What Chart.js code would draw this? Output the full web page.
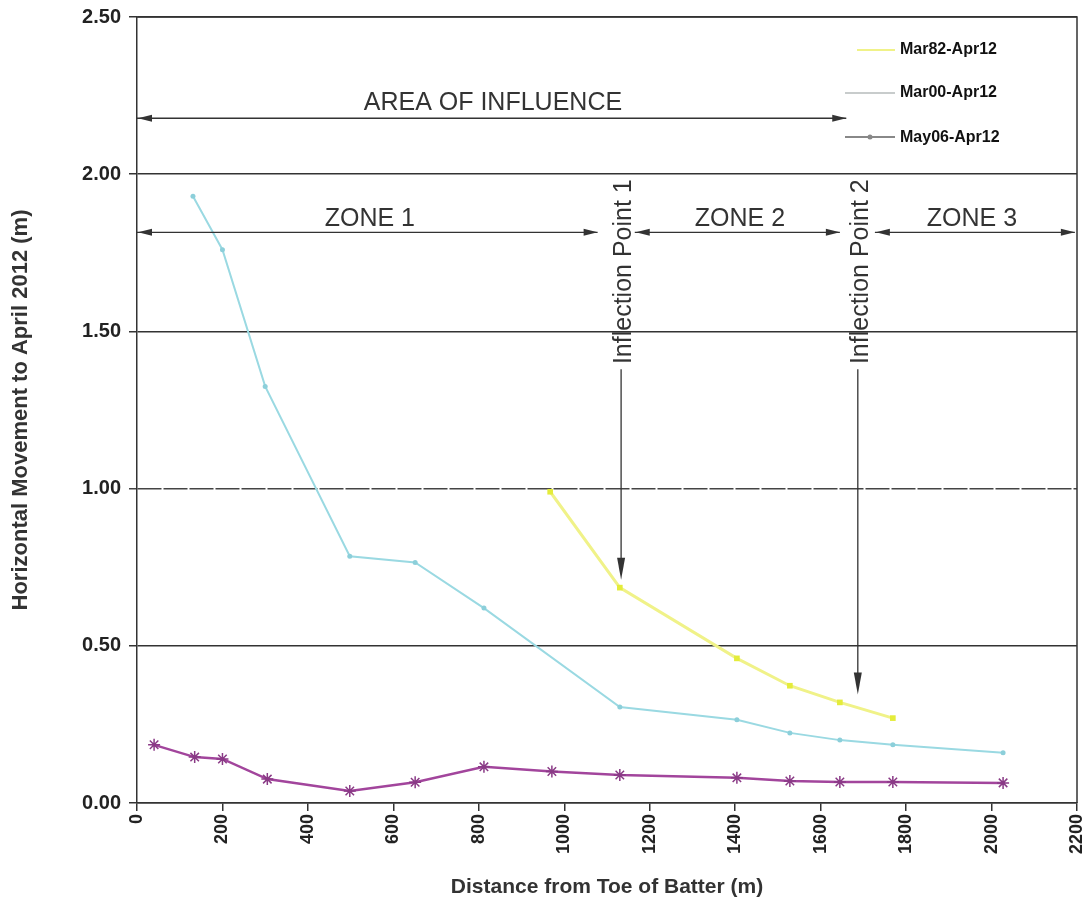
<!DOCTYPE html>
<html>
<head>
<meta charset="utf-8">
<script src="https://cdn.jsdelivr.net/npm/chart.js@4.4.1/dist/chart.umd.min.js"></script>
<style>
  html, body { margin: 0; padding: 0; background: #ffffff; }
  #wrap { width: 1090px; height: 904px; position: relative; }
</style>
</head>
<body>
<div id="wrap"><canvas id="c" width="1090" height="904"></canvas></div>
<script>
// ---- Data ----
const seriesNames = ["Mar82-Apr12", "Mar00-Apr12", "May06-Apr12"];

const mar82X = [967, 1130, 1404, 1528, 1645, 1769];
const mar82Y = [0.99, 0.685, 0.46, 0.373, 0.32, 0.27];

const mar00X = [131, 200, 300, 498, 651, 812, 1130, 1404, 1528, 1645, 1769, 2027];
const mar00Y = [1.93, 1.76, 1.325, 0.785, 0.765, 0.62, 0.305, 0.265, 0.223, 0.20, 0.185, 0.16];

const may06X = [40, 135, 200, 305, 498, 651, 812, 971, 1130, 1404, 1528, 1645, 1769, 2027];
const may06Y = [0.185, 0.146, 0.14, 0.076, 0.038, 0.066, 0.115, 0.10, 0.089, 0.080, 0.070, 0.067, 0.067, 0.064];

const xTickValues = [0, 200, 400, 600, 800, 1000, 1200, 1400, 1600, 1800, 2000, 2200];
const yTickValues = [0, 0.5, 1.0, 1.5, 2.0, 2.5];

const xTitle = "Distance from Toe of Batter (m)";
const yTitle = "Horizontal Movement to April 2012 (m)";

// annotation texts and their data-space anchors
const areaLabel = "AREA OF INFLUENCE";
const zoneLabels = ["ZONE 1", "ZONE 2", "ZONE 3"];
const zoneCenters = [545, 1411, 1954];
const inflectionLabels = ["Inflection Point 1", "Inflection Point 2"];
const inflectionX = [1133, 1687];
const inflectionArrowEnd = [0.71, 0.345];

const colYellow = "#f0f288";
const colCyan = "#9ad9e2";
const colMagenta = "#a2459c";

function pts(xs, ys) { return xs.map((x, i) => ({ x: x, y: ys[i] })); }

const FONT = "'Liberation Sans', Arial, Helvetica, sans-serif";

function arrowHead(ctx, x, y, dir, len, half) {
  ctx.beginPath();
  if (dir === 'left') { ctx.moveTo(x, y); ctx.lineTo(x + len, y - half); ctx.lineTo(x + len, y + half); }
  else if (dir === 'right') { ctx.moveTo(x, y); ctx.lineTo(x - len, y - half); ctx.lineTo(x - len, y + half); }
  else if (dir === 'down') { ctx.moveTo(x, y); ctx.lineTo(x - half, y - len); ctx.lineTo(x + half, y - len); }
  ctx.closePath();
  ctx.fill();
}

const annotPlugin = {
  id: 'annot',
  afterDatasetsDraw(chart) {
    const ctx = chart.ctx;
    const xs = chart.scales.x, ys = chart.scales.y;
    const ca = chart.chartArea;
    ctx.save();
    // frame: right and top border
    ctx.strokeStyle = '#333';
    ctx.lineWidth = 1.5;
    ctx.beginPath();
    ctx.moveTo(ca.left, ca.top); ctx.lineTo(ca.right, ca.top); ctx.lineTo(ca.right, ca.bottom);
    ctx.stroke();

    ctx.fillStyle = '#333';
    ctx.strokeStyle = '#333';
    ctx.lineWidth = 1.3;

    // AREA OF INFLUENCE
    const ay = ys.getPixelForValue(2.178);
    const ax0 = xs.getPixelForValue(0), ax1 = xs.getPixelForValue(1660);
    ctx.beginPath(); ctx.moveTo(ax0, ay); ctx.lineTo(ax1, ay); ctx.stroke();
    arrowHead(ctx, ax0 + 1, ay, 'left', 14, 3.5);
    arrowHead(ctx, ax1, ay, 'right', 14, 3.5);
    ctx.font = "25px " + FONT;
    ctx.textAlign = 'center'; ctx.textBaseline = 'alphabetic';
    ctx.fillText(areaLabel, xs.getPixelForValue(833), ay - 8);

    // zones
    const zy = ys.getPixelForValue(1.815);
    const zoneSegs = [[0, 1078], [1165, 1645], [1727, 2195]];
    zoneSegs.forEach((s, i) => {
      const p0 = xs.getPixelForValue(s[0]), p1 = xs.getPixelForValue(s[1]);
      ctx.beginPath(); ctx.moveTo(p0, zy); ctx.lineTo(p1, zy); ctx.stroke();
      arrowHead(ctx, p0 + 1, zy, 'left', 14, 3.5);
      arrowHead(ctx, p1, zy, 'right', 14, 3.5);
      ctx.font = "25px " + FONT;
      ctx.textAlign = 'center';
      ctx.fillText(zoneLabels[i], xs.getPixelForValue(zoneCenters[i]), zy - 6);
    });

    // inflection points
    inflectionX.forEach((xv, i) => {
      const px = xs.getPixelForValue(xv);
      ctx.save();
      ctx.translate(px + 10, ys.getPixelForValue(1.69));
      ctx.rotate(-Math.PI / 2);
      ctx.font = "25px " + FONT;
      ctx.textAlign = 'center';
      ctx.textBaseline = 'alphabetic';
      ctx.fillText(inflectionLabels[i], 0, 0);
      ctx.restore();
      const y0 = ys.getPixelForValue(1.38), y1 = ys.getPixelForValue(inflectionArrowEnd[i]);
      ctx.beginPath(); ctx.moveTo(px, y0); ctx.lineTo(px, y1 - 10); ctx.stroke();
      arrowHead(ctx, px, y1, 'down', 22, 4);
    });

    // legend (custom, inside plot area)
    const lx = ca.right - 232;
    const legendY = [ys.getPixelForValue(2.395), ys.getPixelForValue(2.258), ys.getPixelForValue(2.118)];
    const legendCols = [colYellow, '#c8cccc', '#888888'];
    ctx.font = "bold 16px " + FONT;
    ctx.textAlign = 'left'; ctx.textBaseline = 'middle';
    seriesNames.forEach((n, i) => {
      ctx.strokeStyle = legendCols[i];
      ctx.lineWidth = 2;
      ctx.beginPath(); ctx.moveTo(lx + (i === 0 ? 12 : 0), legendY[i]); ctx.lineTo(lx + 50, legendY[i]); ctx.stroke();
      if (i === 2) {
        ctx.fillStyle = '#888';
        ctx.beginPath(); ctx.arc(lx + 25, legendY[i], 2.5, 0, Math.PI * 2); ctx.fill();
      }
      ctx.fillStyle = '#111';
      ctx.fillText(n, lx + 55, legendY[i]);
    });
    ctx.restore();
  }
};

new Chart(document.getElementById('c'), {
  type: 'scatter',
  data: {
    datasets: [
      {
        label: seriesNames[0],
        data: pts(mar82X, mar82Y),
        showLine: true,
        borderColor: colYellow,
        backgroundColor: '#e4ec3a',
        borderWidth: 3,
        pointStyle: 'rect',
        pointRadius: 4,
        pointBorderWidth: 0
      },
      {
        label: seriesNames[1],
        data: pts(mar00X, mar00Y),
        showLine: true,
        borderColor: colCyan,
        backgroundColor: '#8ccfda',
        borderWidth: 2,
        pointStyle: 'circle',
        pointRadius: 2.5,
        pointBorderWidth: 0
      },
      {
        label: seriesNames[2],
        data: pts(may06X, may06Y),
        showLine: true,
        borderColor: colMagenta,
        backgroundColor: colMagenta,
        borderWidth: 2.5,
        pointStyle: 'star',
        pointRadius: 6,
        pointBorderColor: '#8a3a86',
        pointBorderWidth: 1.5
      }
    ]
  },
  options: {
    responsive: false,
    animation: false,
    layout: { padding: { top: 17, right: 13, left: 0, bottom: 0 } },
    plugins: {
      legend: { display: false },
      tooltip: { enabled: false }
    },
    scales: {
      x: {
        type: 'linear',
        min: 0, max: 2200,
        afterBuildTicks: (axis) => { axis.ticks = xTickValues.map(v => ({ value: v })); },
        afterFit: (axis) => { axis.height = 101; axis.paddingRight = 0; axis.paddingLeft = 0; },
        ticks: {
          color: '#222',
          font: { family: FONT, size: 18, weight: 'bold' },
          minRotation: 90, maxRotation: 90,
          padding: 3,
          callback: (v) => String(v)
        },
        grid: { drawOnChartArea: false, drawTicks: true, tickLength: 8, color: '#333', lineWidth: 1.5 },
        border: { color: '#333', width: 1.5 },
        title: {
          display: true, text: xTitle, color: '#333',
          font: { family: FONT, size: 21, weight: 'bold' },
          padding: { top: 2, bottom: 4 }
        }
      },
      y: {
        type: 'linear',
        min: 0, max: 2.5,
        afterBuildTicks: (axis) => { axis.ticks = yTickValues.map(v => ({ value: v })); },
        afterFit: (axis) => { axis.width = 137; axis.paddingTop = 0; axis.paddingBottom = 0; },
        ticks: {
          color: '#222',
          font: { family: FONT, size: 20, weight: 'bold' },
          padding: 8,
          callback: (v) => Number(v).toFixed(2)
        },
        grid: {
          drawTicks: true, tickLength: 8,
          color: (c) => (c.tick && c.tick.value === 1 ? '#444' : '#333'),
          lineWidth: 1.5
        },
        border: {
          color: '#333', width: 1.5,
          dash: (c) => (c.tick && c.tick.value === 1 ? [24, 2] : [])
        },
        title: {
          display: true, text: yTitle, color: '#333',
          font: { family: FONT, size: 22, weight: 'bold' },
          padding: { top: 8, bottom: 4 }
        }
      }
    }
  },
  plugins: [annotPlugin]
});
</script>
</body>
</html>
